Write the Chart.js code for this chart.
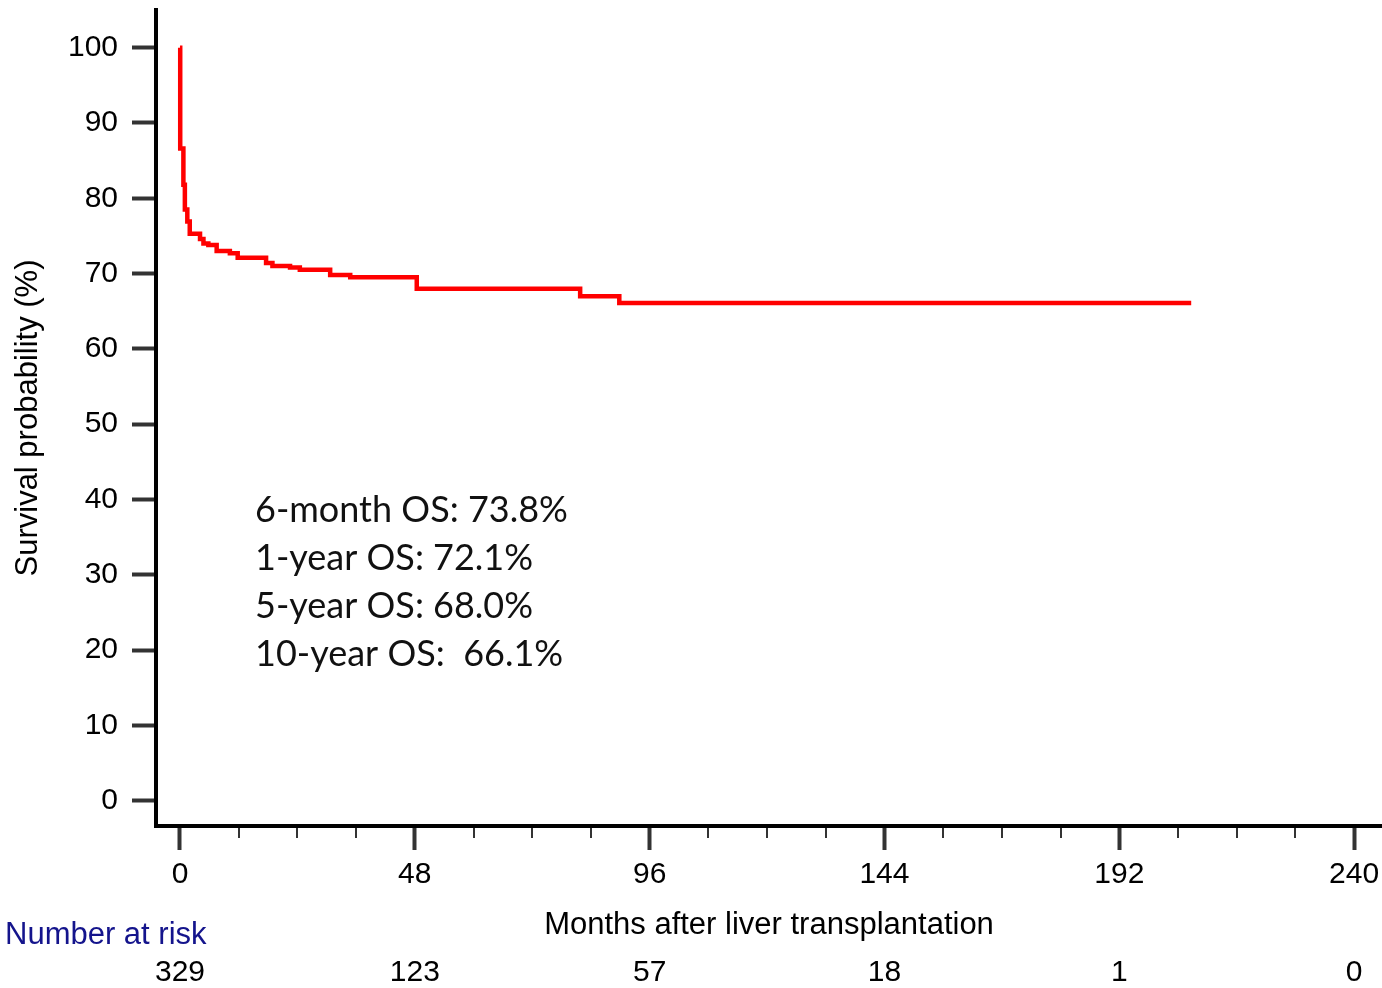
<!DOCTYPE html>
<html>
<head>
<meta charset="utf-8">
<script src="https://cdn.jsdelivr.net/npm/chart.js@4.4.1/dist/chart.umd.min.js"></script>
<style>
  html, body { margin: 0; padding: 0; background: #ffffff; }
  #wrap { width: 1382px; height: 988px; }
</style>
</head>
<body>
<div id="wrap"><canvas id="km" width="1382" height="988"></canvas></div>
<script>
// Kaplan-Meier overall survival: month at which each step occurs and survival (%) after it
const months   = [0, 0.05, 0.7, 1.0, 1.5, 2.0, 4.1, 4.8, 5.8, 7.5, 10.2, 11.8, 17.6, 18.9, 22.5, 24.5, 30.7, 34.8, 48.4, 81.8, 89.8, 206.7];
const survival = [100, 86.6, 81.8, 78.5, 76.9, 75.3, 74.6, 74.0, 73.8, 73.0, 72.7, 72.1, 71.4, 71.0, 70.8, 70.5, 69.8, 69.5, 68.0, 67.0, 66.1, 66.1];

// axis ticks
const xTickMonths  = [0, 12, 24, 36, 48, 60, 72, 84, 96, 108, 120, 132, 144, 156, 168, 180, 192, 204, 216, 228, 240];
const xMajorStep   = 48;
const yTickValues  = [0, 10, 20, 30, 40, 50, 60, 70, 80, 90, 100];

// number-at-risk table
const riskMonths = [0, 48, 96, 144, 192, 240];
const riskCounts = [329, 123, 57, 18, 1, 0];

// survival summary
const osLines = ['6-month OS: 73.8%', '1-year OS: 72.1%', '5-year OS: 68.0%', '10-year OS:  66.1%'];

const AXIS_FONT = 'Liberation Sans, Arial, sans-serif';

const extras = {
  id: 'kmExtras',
  afterDraw(chart) {
    const ctx = chart.ctx;
    const xs = chart.scales.x;
    const area = chart.chartArea;
    ctx.save();

    // minor x tick marks
    ctx.strokeStyle = '#333333';
    ctx.lineWidth = 2;
    xTickMonths.forEach(m => {
      if (m % xMajorStep === 0) return;
      const px = Math.round(xs.getPixelForValue(m));
      ctx.beginPath();
      ctx.moveTo(px, area.bottom + 2);
      ctx.lineTo(px, area.bottom + 12);
      ctx.stroke();
    });

    // summary text block
    ctx.fillStyle = '#111111';
    ctx.font = '36px Lato, "Open Sans", sans-serif';
    ctx.textAlign = 'left';
    ctx.textBaseline = 'middle';
    osLines.forEach((t, i) => ctx.fillText(t, area.left + 99, 510 + i * 48));

    // number at risk
    ctx.fillStyle = '#14148c';
    ctx.font = '31px ' + AXIS_FONT;
    ctx.textAlign = 'left';
    ctx.fillText('Number at risk', 5, 935);

    ctx.fillStyle = '#000000';
    ctx.font = '30px ' + AXIS_FONT;
    ctx.textAlign = 'center';
    riskMonths.forEach((m, i) => {
      ctx.fillText(String(riskCounts[i]), xs.getPixelForValue(m), 973);
    });
    ctx.restore();
  }
};

new Chart(document.getElementById('km'), {
  type: 'line',
  data: {
    datasets: [{
      data: months.map((m, i) => ({ x: m, y: survival[i] })),
      borderColor: '#ff0000',
      borderWidth: 4.5,
      stepped: 'before',
      pointRadius: 0,
      fill: false
    }]
  },
  options: {
    responsive: false,
    animation: false,
    events: [],
    devicePixelRatio: 1,
    layout: { padding: { top: 10, left: 0, right: 0, bottom: 0 } },
    plugins: { legend: { display: false }, tooltip: { enabled: false } },
    scales: {
      x: {
        type: 'linear',
        min: -4.9,
        max: 245.7,
        afterBuildTicks: s => { s.ticks = xTickMonths.map(v => ({ value: v })); },
        afterFit: s => { s.height = 162; s.paddingLeft = 0; s.paddingRight = 0; },
        border: { display: true, color: '#000000', width: 4 },
        grid: {
          drawOnChartArea: false,
          drawTicks: true,
          tickLength: 24,
          tickWidth: 4,
          tickColor: c => (c.tick && c.tick.value % xMajorStep === 0) ? '#333333' : 'rgba(0,0,0,0)'
        },
        ticks: {
          autoSkip: false,
          maxRotation: 0,
          padding: 7,
          color: '#000000',
          font: { family: AXIS_FONT, size: 30 },
          callback: v => (v % xMajorStep === 0 ? String(v) : '')
        },
        title: {
          display: true,
          text: 'Months after liver transplantation',
          color: '#000000',
          font: { family: AXIS_FONT, size: 31 },
          padding: { top: 44, bottom: 44 }
        }
      },
      y: {
        type: 'linear',
        min: -3.36,
        max: 105,
        afterBuildTicks: s => { s.ticks = yTickValues.map(v => ({ value: v })); },
        afterFit: s => { s.width = 156; s.paddingTop = 0; s.paddingBottom = 0; },
        border: { display: true, color: '#000000', width: 4 },
        grid: {
          drawOnChartArea: false,
          drawTicks: true,
          tickLength: 24,
          tickWidth: 4,
          tickColor: '#333333'
        },
        ticks: {
          padding: 14,
          color: '#000000',
          font: { family: AXIS_FONT, size: 30 }
        },
        title: {
          display: true,
          text: 'Survival probability (%)',
          color: '#000000',
          font: { family: AXIS_FONT, size: 31 },
          padding: { top: 10, bottom: 10 }
        }
      }
    }
  },
  plugins: [extras]
});
</script>
</body>
</html>
